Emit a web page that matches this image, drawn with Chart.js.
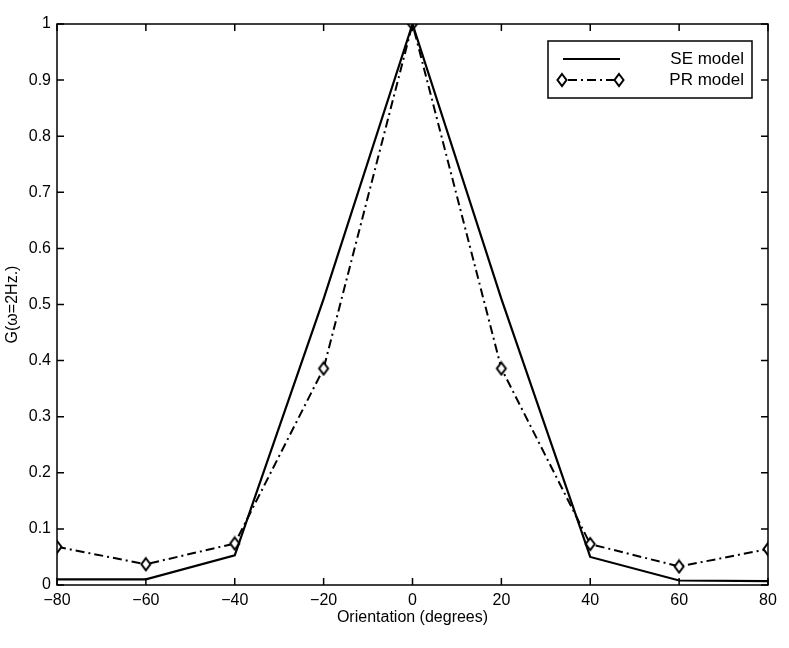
<!DOCTYPE html>
<html>
<head>
<meta charset="utf-8">
<script src="https://cdn.jsdelivr.net/npm/chart.js@4"></script>
<style>
html,body{margin:0;padding:0;background:#fff;}
#wrap{width:789px;height:648px;position:relative;}
</style>
</head>
<body>
<div id="wrap"><canvas id="c" width="789" height="648"></canvas></div>
<script>
const orientation = [-80, -60, -40, -20, 0, 20, 40, 60, 80];
const seModel = [0.010, 0.010, 0.053, 0.51, 1.0, 0.51, 0.050, 0.008, 0.007];
const prModel = [0.068, 0.037, 0.074, 0.386, 1.0, 0.386, 0.073, 0.033, 0.064];
const xTicks = [-80, -60, -40, -20, 0, 20, 40, 60, 80];
const yTicks = [0, 0.1, 0.2, 0.3, 0.4, 0.5, 0.6, 0.7, 0.8, 0.9, 1];
const seriesNames = ['SE model', 'PR model'];
const xTitle = 'Orientation (degrees)';
const yTitle = 'G(\u03c9=2Hz.)';

const FONT = '"Liberation Sans", Arial, Helvetica, sans-serif';

const framePlugin = {
  id: 'frame',
  afterDatasetsDraw(chart) {
    const {ctx, chartArea: a, scales: {x, y}} = chart;
    ctx.save();
    ctx.strokeStyle = '#000';
    ctx.lineWidth = 1.5;
    ctx.strokeRect(a.left, a.top, a.right - a.left, a.bottom - a.top);
    const L = 7;
    ctx.beginPath();
    xTicks.forEach(v => {
      const px = x.getPixelForValue(v);
      ctx.moveTo(px, a.bottom); ctx.lineTo(px, a.bottom - L);
      ctx.moveTo(px, a.top); ctx.lineTo(px, a.top + L);
    });
    yTicks.forEach(v => {
      const py = y.getPixelForValue(v);
      ctx.moveTo(a.left, py); ctx.lineTo(a.left + L, py);
      ctx.moveTo(a.right, py); ctx.lineTo(a.right - L, py);
    });
    ctx.stroke();

    // legend box
    const bx = 548, by = 41, bw = 204, bh = 57;
    ctx.fillStyle = '#fff';
    ctx.fillRect(bx, by, bw, bh);
    ctx.lineWidth = 1.5;
    ctx.strokeRect(bx, by, bw, bh);
    const ds = chart.data.datasets;
    const rows = [59, 80];
    ds.forEach((d, i) => {
      const yy = rows[i];
      ctx.save();
      ctx.strokeStyle = d.borderColor;
      ctx.lineWidth = d.borderWidth;
      ctx.setLineDash(d.borderDash || []);
      ctx.beginPath();
      if (i === 0) { ctx.moveTo(563, yy); ctx.lineTo(620, yy); }
      else { ctx.moveTo(568, yy); ctx.lineTo(614, yy); }
      ctx.stroke();
      ctx.restore();
      if (d.pointRadius > 0) {
        [562, 619].forEach(px => {
          ctx.save();
          ctx.translate(px, yy);
          ctx.beginPath();
          ctx.moveTo(0, -6); ctx.lineTo(4.5, 0); ctx.lineTo(0, 6); ctx.lineTo(-4.5, 0); ctx.closePath();
          ctx.fillStyle = '#fff'; ctx.fill();
          ctx.lineWidth = 2; ctx.strokeStyle = '#000'; ctx.stroke();
          ctx.restore();
        });
      }
      ctx.fillStyle = '#000';
      ctx.font = '17px ' + FONT;
      ctx.textAlign = 'right';
      ctx.textBaseline = 'middle';
      ctx.fillText(d.label, 744, yy);
    });
    ctx.restore();
  }
};

function diamond() {
  const c = document.createElement('canvas');
  c.width = 14; c.height = 16;
  const g = c.getContext('2d');
  g.translate(7, 8);
  g.beginPath();
  g.moveTo(0, -6); g.lineTo(4.5, 0); g.lineTo(0, 6); g.lineTo(-4.5, 0); g.closePath();
  g.fillStyle = '#fff'; g.fill();
  g.lineWidth = 2; g.strokeStyle = '#000'; g.stroke();
  return c;
}
const dia = diamond();

new Chart(document.getElementById('c'), {
  type: 'line',
  data: {
    datasets: [
      {
        label: seriesNames[0],
        data: orientation.map((v, i) => ({x: v, y: seModel[i]})),
        borderColor: '#000', borderWidth: 2.2, pointRadius: 0,
        tension: 0, fill: false
      },
      {
        label: seriesNames[1],
        data: orientation.map((v, i) => ({x: v, y: prModel[i]})),
        borderColor: '#000', borderWidth: 2, borderDash: [9, 4, 2, 4],
        pointStyle: dia, pointRadius: 6, tension: 0, fill: false
      }
    ]
  },
  options: {
    responsive: false,
    animation: false,
    devicePixelRatio: 1,
    layout: {padding: {left: 0, right: 21, top: 24, bottom: 0}},
    plugins: {legend: {display: false}, tooltip: {enabled: false}},
    scales: {
      x: {
        type: 'linear', min: -80, max: 80,
        afterBuildTicks(s) { s.ticks = xTicks.map(v => ({value: v})); },
        afterFit(s) { s.height = 63; },
        grid: {display: false, drawTicks: false},
        border: {display: false},
        ticks: {color: '#000', font: {family: FONT, size: 16}, padding: 6, maxRotation: 0,
          callback: v => (v < 0 ? '\u2212' + Math.abs(v) : String(v))},
        title: {display: true, text: xTitle, color: '#000', font: {family: FONT, size: 16}, padding: {top: 0, bottom: 21}}
      },
      y: {
        type: 'linear', min: 0, max: 1,
        afterBuildTicks(s) { s.ticks = yTicks.map(v => ({value: v})); },
        afterFit(s) { s.width = 57; },
        grid: {display: false, drawTicks: false},
        border: {display: false},
        ticks: {color: '#000', font: {family: FONT, size: 16}, padding: 6,
          callback: v => String(Math.round(v * 10) / 10)},
        title: {display: true, text: yTitle, color: '#000', font: {family: FONT, size: 16}, padding: {top: 3, bottom: 0}}
      }
    }
  },
  plugins: [framePlugin]
});
</script>
</body>
</html>
